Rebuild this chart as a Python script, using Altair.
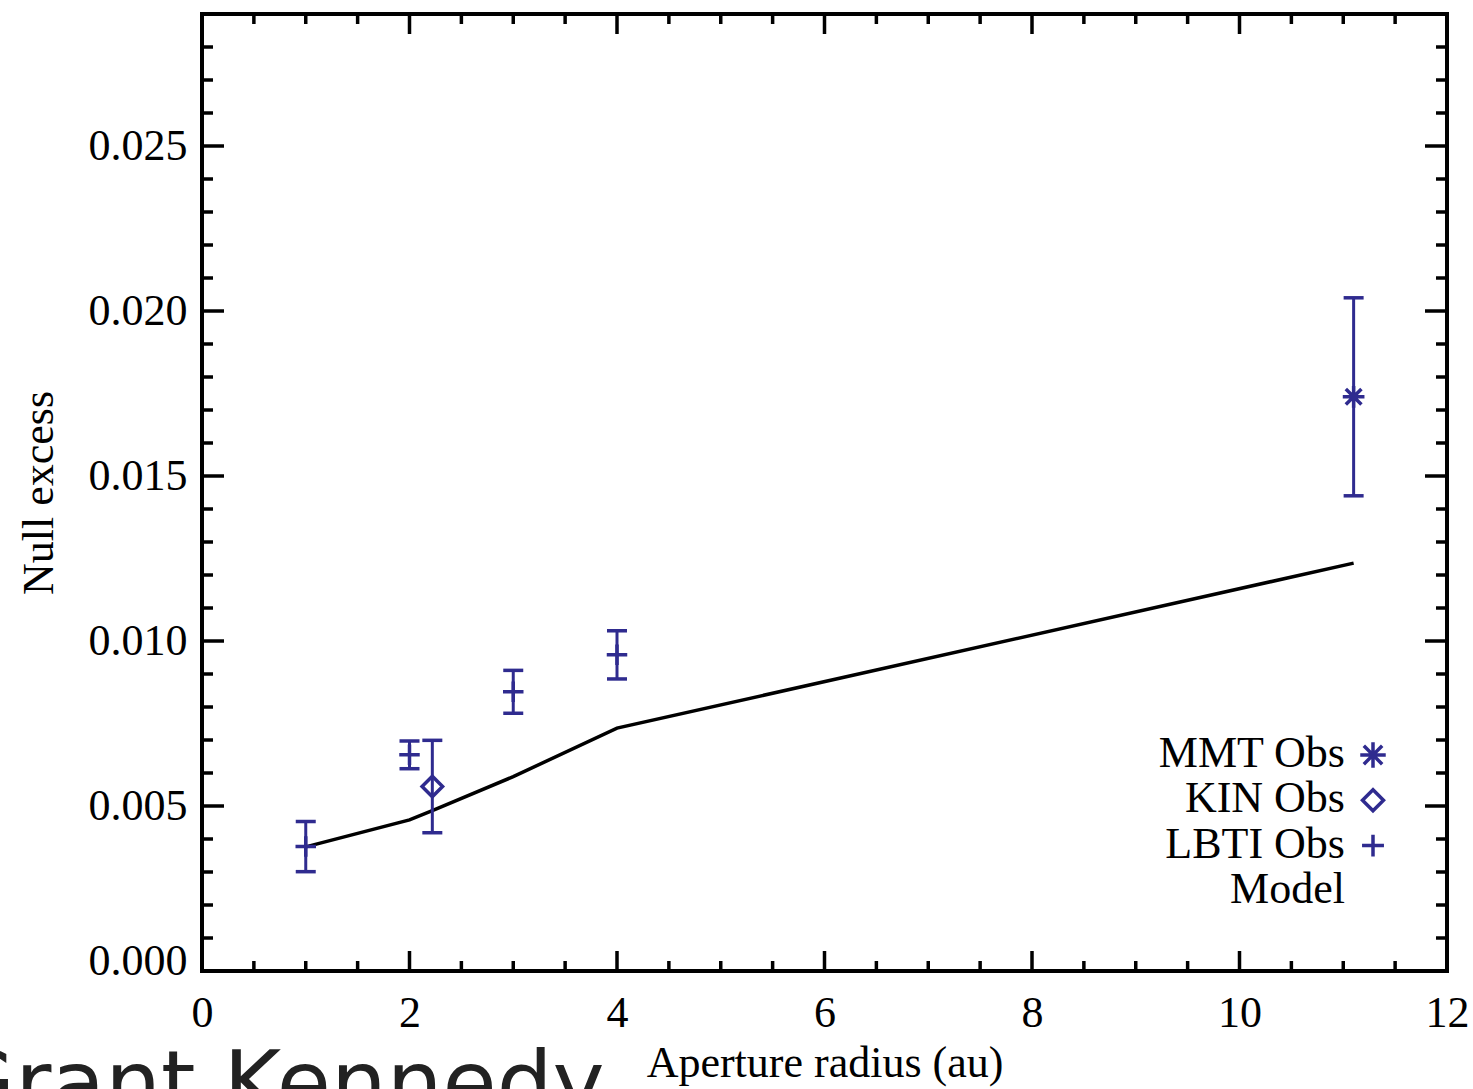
import altair as alt
import pandas as pd

# --- measurements -----------------------------------------------------------
lbti_x = [1.0, 2.0, 3.0, 4.0]
lbti_y = [0.00377, 0.00655, 0.00846, 0.00958]
lbti_err = [0.00076, 0.00042, 0.00065, 0.00073]

kin_x = [2.22]
kin_y = [0.00559]
kin_err = [0.00140]

mmt_x = [11.1]
mmt_y = [0.01740]
mmt_err = [0.00300]

# --- model curve ------------------------------------------------------------
model_x = [1.0, 2.0, 2.22, 3.0, 4.0, 11.1]
model_y = [0.00376, 0.00458, 0.00486, 0.00589, 0.00736, 0.01236]

# --- axis ticks -------------------------------------------------------------
x_major = [0, 2, 4, 6, 8, 10, 12]
x_minor = [0.5, 1, 1.5, 2.5, 3, 3.5, 4.5, 5, 5.5, 6.5, 7, 7.5,
           8.5, 9, 9.5, 10.5, 11, 11.5]
y_major = [0.0, 0.005, 0.010, 0.015, 0.020, 0.025]
y_minor = [0.001, 0.002, 0.003, 0.004, 0.006, 0.007, 0.008, 0.009,
           0.011, 0.012, 0.013, 0.014, 0.016, 0.017, 0.018, 0.019,
           0.021, 0.022, 0.023, 0.024, 0.026, 0.027, 0.028]

legend_labels = ["MMT Obs", "KIN Obs", "LBTI Obs", "Model"]
footer = ["Grant Kennedy"]

INK = "#2f2b8f"
SERIF = "Liberation Serif"
W, H = 1245, 957

ASTERISK = "M-1,0H1M0,-1V1M-0.72,-0.72L0.72,0.72M-0.72,0.72L0.72,-0.72"
PLUS = "M-1,0H1M0,-1V1"
CAP = "M-1,0H1"

xscale = alt.Scale(domain=[0, 12], nice=False, zero=False)
yscale = alt.Scale(domain=[0, 0.029], nice=False, zero=False)
xaxis = alt.Axis(values=x_major, format="d", title="Aperture radius (au)",
                 labelPadding=20, titlePadding=6, labelFlush=False,
                 labelOverlap=False)
yaxis = alt.Axis(values=y_major, format=".3f", title="Null excess",
                 labelPadding=15, titlePadding=27, labelFlush=True,
                 labelFlushOffset=12, labelOverlap=False)


def X(field):
    return alt.X(f"{field}:Q", scale=xscale, axis=xaxis)


def Y(field):
    return alt.Y(f"{field}:Q", scale=yscale, axis=yaxis)


def obs_frame(xs, ys, errs):
    return pd.DataFrame({
        "x": xs, "y": ys,
        "lo": [v - e for v, e in zip(ys, errs)],
        "hi": [v + e for v, e in zip(ys, errs)],
    })


lbti = obs_frame(lbti_x, lbti_y, lbti_err)
kin = obs_frame(kin_x, kin_y, kin_err)
mmt = obs_frame(mmt_x, mmt_y, mmt_err)
obs = pd.concat([lbti, kin, mmt], ignore_index=True)
model = pd.DataFrame({"x": model_x, "y": model_y})


def marker(data, shape, size, field="y"):
    return alt.Chart(data).mark_point(
        shape=shape, size=size, color=INK, strokeWidth=3.5,
        filled=False, opacity=1).encode(x=X("x"), y=Y(field))


model_line = alt.Chart(model).mark_line(color="black", strokeWidth=3.5).encode(
    x=X("x"), y=Y("y"))

err_bars = alt.Chart(obs).mark_rule(color=INK, strokeWidth=3).encode(
    x=X("x"), y=Y("lo"), y2="hi")
caps_lo = marker(obs, CAP, 400, "lo")
caps_hi = marker(obs, CAP, 400, "hi")

lbti_pts = marker(lbti, PLUS, 420)
kin_pts = marker(kin, "diamond", 420)
mmt_pts = marker(mmt, ASTERISK, 470)


# inward-pointing ticks on all four sides of the frame
def x_ticks(values, length):
    df = pd.DataFrame({"t": values})
    bottom = alt.Chart(df).mark_rule(color="black", strokeWidth=3.5).encode(
        x=X("t"), y=alt.value(H), y2=alt.value(H - length))
    top = alt.Chart(df).mark_rule(color="black", strokeWidth=3.5).encode(
        x=X("t"), y=alt.value(0), y2=alt.value(length))
    return [bottom, top]


def y_ticks(values, length):
    df = pd.DataFrame({"t": values})
    left = alt.Chart(df).mark_rule(color="black", strokeWidth=3.5).encode(
        y=Y("t"), x=alt.value(0), x2=alt.value(length))
    right = alt.Chart(df).mark_rule(color="black", strokeWidth=3.5).encode(
        y=Y("t"), x=alt.value(W), x2=alt.value(W - length))
    return [left, right]


ticks = (x_ticks(x_major, 20) + x_ticks(x_minor, 10)
         + y_ticks(y_major, 22) + y_ticks(y_minor, 11))

# legend: right-aligned labels with the symbol to their right
legend_shapes = [ASTERISK, "diamond", PLUS, None]
legend_sizes = [650, 440, 480, 0]
legend_layers = []
row_base = 753  # baseline of the first legend row (relative to plot top)
for i, (lab, shp, sz) in enumerate(zip(legend_labels, legend_shapes, legend_sizes)):
    base = row_base + i * 45.3
    legend_layers.append(
        alt.Chart(pd.DataFrame({"label": [lab]})).mark_text(
            font=SERIF, fontSize=44, color="black", align="right",
            baseline="alphabetic").encode(
            text="label:N", x=alt.value(1143), y=alt.value(base)))
    if shp is not None:
        legend_layers.append(
            alt.Chart(pd.DataFrame({"label": [lab]})).mark_point(
                shape=shp, size=sz, color=INK, strokeWidth=3.5,
                filled=False, opacity=1).encode(
                x=alt.value(1171), y=alt.value(base - 12)))

footer_text = alt.Chart(pd.DataFrame({"t": footer})).mark_text(
    font="DejaVu Sans", fontSize=88, color="#222222", align="left",
    baseline="alphabetic").encode(
    text="t:N", x=alt.value(-255), y=alt.value(1099))

chart = alt.layer(
    *ticks, model_line, err_bars, caps_lo, caps_hi, lbti_pts, kin_pts, mmt_pts,
    *legend_layers, footer_text,
).properties(
    width=W, height=H,
    padding={"left": 202, "top": 14, "right": 26, "bottom": 118},
    autosize=alt.AutoSizeParams(type="none"),
    background="white",
).configure_view(
    stroke="black", strokeWidth=4,
).configure_axis(
    labelFont=SERIF, labelFontSize=44, labelColor="black",
    titleFont=SERIF, titleFontSize=44, titleFontWeight="normal",
    titleColor="black", domain=False, ticks=False, grid=False,
)

chart.save("out.html", embed_options={"renderer": "svg", "actions": False})
